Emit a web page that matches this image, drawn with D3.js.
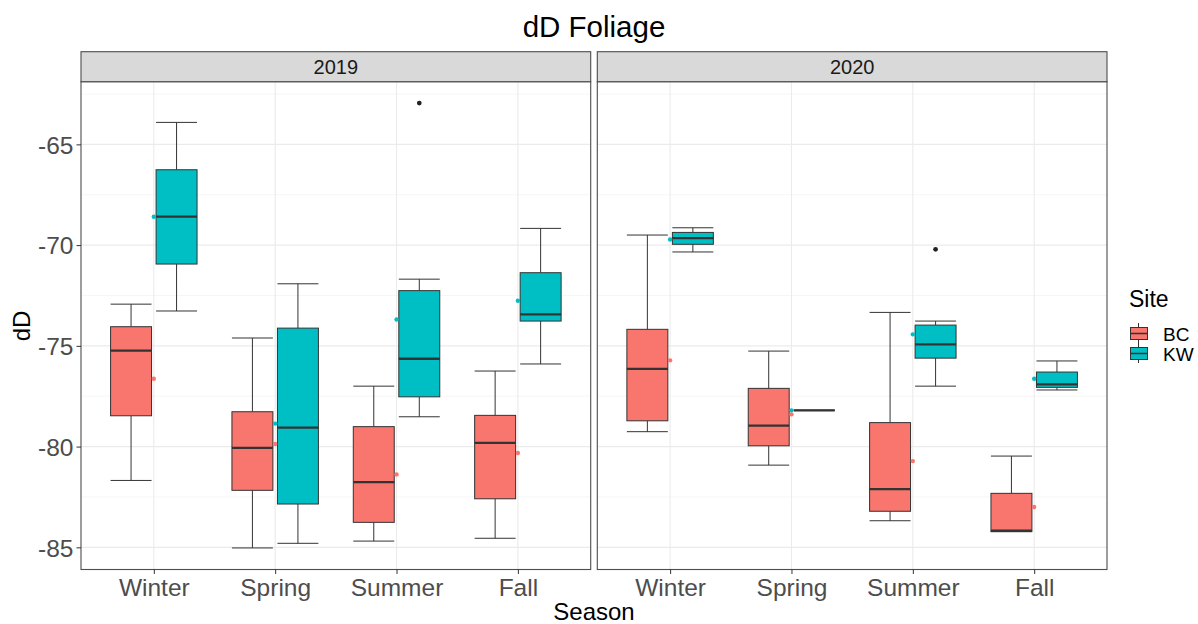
<!DOCTYPE html>
<html lang="en">
<head>
  <meta charset="UTF-8">
  <title>dD Foliage</title>
  <script src="https://d3js.org/d3.v7.min.js"></script>
  <style>
    body { margin: 0; background: #fff; }
    text { font-family: "Liberation Sans", Arial, sans-serif; }
    .grid-major { stroke: #ebebeb; stroke-width: 1.1; }
    .grid-minor { stroke: #f4f4f4; stroke-width: 0.8; }
    .tick-label { fill: #4d4d4d; font-size: 24.5px; }
  </style>
</head>
<body>
  <svg width="1198" height="624"></svg>

  <script>
    const width = 1198, height = 624;
    const svg = d3.select("svg");

    const years = ["2019", "2020"];
    const seasons = ["Winter", "Spring", "Summer", "Fall"];
    const sites = ["BC", "KW"];
    const siteColors = ["#F8766D", "#00BFC4"];

    // each row: [lower whisker, Q1, median, Q3, upper whisker, mean], seasons in order
    const bc2019 = [
      [-81.68, -78.47, -75.24, -74.05, -72.93, -76.63],
      [-85.03, -82.17, -80.06, -78.27, -74.61, -79.87],
      [-84.69, -83.76, -81.76, -79.01, -77.00, -81.38],
      [-84.55, -82.59, -79.82, -78.45, -76.25, -80.32]
    ];
    const kw2019 = [
      [-73.27, -70.94, -68.59, -66.26, -63.91, -68.59],
      [-84.80, -82.85, -79.06, -74.12, -71.92, -78.86],
      [-78.52, -77.53, -75.64, -72.26, -71.69, -73.69],
      [-75.90, -73.77, -73.44, -71.37, -69.17, -72.76]
    ];
    const bc2020 = [
      [-79.26, -78.72, -76.14, -74.18, -69.50, -75.72],
      [-80.92, -79.96, -78.96, -77.11, -75.26, -78.40],
      [-83.68, -83.21, -82.11, -78.81, -73.34, -80.72],
      [-84.22, -84.22, -84.17, -82.32, -80.47, -83.00]
    ];
    const kw2020 = [
      [-70.34, -69.96, -69.65, -69.37, -69.14, -69.72],
      [-78.20, -78.20, -78.20, -78.20, -78.20, -78.20],
      [-77.00, -75.61, -74.93, -73.97, -73.77, -74.43],
      [-77.19, -77.06, -76.91, -76.30, -75.75, -76.63]
    ];
    // [year, site, season, value]
    const outliers = [
      ["2019", "KW", "Summer", -62.95],
      ["2020", "KW", "Summer", -70.21]
    ];
    const yTicks = [-85, -80, -75, -70, -65];
    const yMinor = [-82.5, -77.5, -72.5, -67.5, -62.5];

    const boxData = {
      "2019": { BC: bc2019, KW: kw2019 },
      "2020": { BC: bc2020, KW: kw2020 }
    };

    const panelTop = 81.7, panelBottom = 569.5;
    const stripTop = 51.7;
    const panelW = 509.7;
    const panelLefts = [81, 597.3];

    const y = d3.scaleLinear().domain([-86.1, -61.89]).range([panelBottom, panelTop]);
    const color = d3.scaleOrdinal().domain(sites).range(siteColors);

    // title
    svg.append("text")
      .attr("x", 594).attr("y", 37)
      .attr("text-anchor", "middle")
      .attr("font-size", 29.5).attr("fill", "#000")
      .text("dD Foliage");

    years.forEach((yr, pi) => {
      const left = panelLefts[pi], right = left + panelW;
      const x = d3.scalePoint().domain(seasons).range([left, right]).padding(0.6);
      const step = x.step();
      const sub = d3.scaleBand().domain(sites)
        .range([-0.375 * step, 0.375 * step])
        .paddingInner(0.1).paddingOuter(0.05);
      const bw = sub.bandwidth();

      const g = svg.append("g");

      // grid
      g.selectAll(".gmin").data(yMinor).enter().append("line")
        .attr("class", "grid-minor")
        .attr("x1", left).attr("x2", right)
        .attr("y1", d => y(d)).attr("y2", d => y(d));
      g.selectAll(".gmaj").data(yTicks).enter().append("line")
        .attr("class", "grid-major")
        .attr("x1", left).attr("x2", right)
        .attr("y1", d => y(d)).attr("y2", d => y(d));
      g.selectAll(".gx").data(seasons).enter().append("line")
        .attr("class", "grid-major")
        .attr("x1", d => x(d)).attr("x2", d => x(d))
        .attr("y1", panelTop).attr("y2", panelBottom);

      // boxes
      sites.forEach(site => {
        boxData[yr][site].forEach((row, si) => {
          const cx = x(seasons[si]) + sub(site);
          const [lo, q1, med, q3, hi] = row;
          const bg = g.append("g");
          bg.append("line").attr("x1", cx + bw / 2).attr("x2", cx + bw / 2)
            .attr("y1", y(hi)).attr("y2", y(q3))
            .attr("stroke", "#333").attr("stroke-width", 1);
          bg.append("line").attr("x1", cx + bw / 2).attr("x2", cx + bw / 2)
            .attr("y1", y(q1)).attr("y2", y(lo))
            .attr("stroke", "#333").attr("stroke-width", 1);
          [lo, hi].forEach(v => {
            bg.append("line").attr("x1", cx).attr("x2", cx + bw)
              .attr("y1", y(v)).attr("y2", y(v))
              .attr("stroke", "#333").attr("stroke-width", 1);
          });
          bg.append("rect")
            .attr("x", cx).attr("width", bw)
            .attr("y", y(q3)).attr("height", Math.max(0, y(q1) - y(q3)))
            .attr("fill", color(site))
            .attr("stroke", "#333").attr("stroke-width", 1);
          bg.append("line").attr("x1", cx).attr("x2", cx + bw)
            .attr("y1", y(med)).attr("y2", y(med))
            .attr("stroke", "#333").attr("stroke-width", 2.3);
        });
      });

      // outliers
      outliers.filter(o => o[0] === yr).forEach(o => {
        g.append("circle")
          .attr("cx", x(o[2]) + sub(o[1]) + bw / 2)
          .attr("cy", y(o[3]))
          .attr("r", 2.4).attr("fill", "#222");
      });

      // means at the season centre
      sites.forEach(site => {
        boxData[yr][site].forEach((row, si) => {
          g.append("circle")
            .attr("cx", x(seasons[si]))
            .attr("cy", y(row[5]))
            .attr("r", 2.2).attr("fill", color(site));
        });
      });

      // panel border
      g.append("rect")
        .attr("x", left).attr("y", panelTop)
        .attr("width", panelW).attr("height", panelBottom - panelTop)
        .attr("fill", "none").attr("stroke", "#4d4d4d").attr("stroke-width", 1.1);

      // strip
      g.append("rect")
        .attr("x", left).attr("y", stripTop)
        .attr("width", panelW).attr("height", panelTop - stripTop)
        .attr("fill", "#d9d9d9").attr("stroke", "#4d4d4d").attr("stroke-width", 1.1);
      g.append("text")
        .attr("x", left + panelW / 2).attr("y", 74)
        .attr("text-anchor", "middle")
        .attr("font-size", 20).attr("fill", "#1a1a1a")
        .text(yr);

      // x axis
      const xa = g.append("g")
        .attr("transform", `translate(0,${panelBottom})`)
        .call(d3.axisBottom(x).tickSize(4.5).tickPadding(4));
      xa.select(".domain").remove();
      xa.selectAll(".tick line").attr("stroke", "#333").attr("stroke-width", 1);
      xa.selectAll(".tick text")
        .attr("class", "tick-label")
        .attr("font-family", null).attr("font-size", null)
        .attr("y", 26).attr("dy", 0);

      if (pi === 0) {
        const ya = g.append("g")
          .attr("transform", `translate(${left},0)`)
          .call(d3.axisLeft(y).tickValues(yTicks).tickSize(4.5).tickPadding(3).tickFormat(d3.format("d")));
        ya.select(".domain").remove();
        ya.selectAll(".tick line").attr("stroke", "#333").attr("stroke-width", 1);
        ya.selectAll(".tick text")
          .attr("class", "tick-label")
          .attr("font-family", null).attr("font-size", null)
          .attr("dy", "0.36em")
          .text(d => d3.format("d")(d).replace("−", "-"));
      }
    });

    // axis titles
    svg.append("text")
      .attr("x", 594).attr("y", 620)
      .attr("text-anchor", "middle")
      .attr("font-size", 24).attr("fill", "#000")
      .text("Season");
    svg.append("text")
      .attr("transform", "translate(30,326) rotate(-90)")
      .attr("text-anchor", "middle")
      .attr("font-size", 24).attr("fill", "#000")
      .text("dD");

    // legend
    const lg = svg.append("g").attr("transform", "translate(1129,0)");
    lg.append("text")
      .attr("x", 0).attr("y", 307)
      .attr("font-size", 23).attr("fill", "#000")
      .text("Site");
    sites.forEach((site, i) => {
      const ky = 323 + i * 20;
      const k = lg.append("g").attr("transform", `translate(0,${ky})`);
      k.append("line").attr("x1", 9.5).attr("x2", 9.5).attr("y1", 0).attr("y2", 20)
        .attr("stroke", "#333").attr("stroke-width", 1);
      k.append("rect").attr("x", 1.5).attr("y", 4.5).attr("width", 17).attr("height", 12)
        .attr("fill", color(site)).attr("stroke", "#333").attr("stroke-width", 1);
      k.append("line").attr("x1", 1.5).attr("x2", 18.5).attr("y1", 10.5).attr("y2", 10.5)
        .attr("stroke", "#333").attr("stroke-width", 1.5);
      lg.append("text")
        .attr("x", 34).attr("y", ky + 17.5)
        .attr("font-size", 19).attr("fill", "#000")
        .text(site);
    });
  </script>
</body>
</html>
